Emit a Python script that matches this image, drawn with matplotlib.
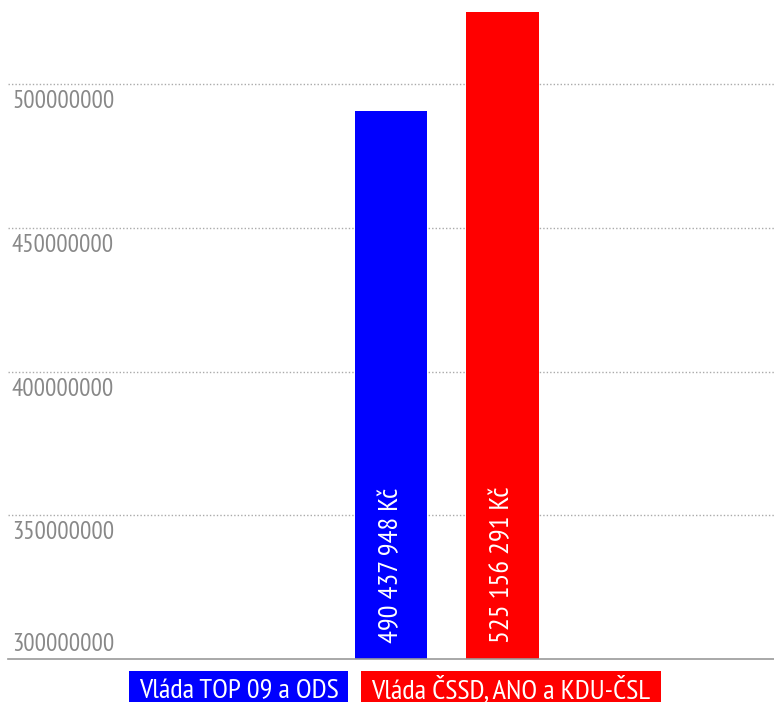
import matplotlib.pyplot as plt
import matplotlib.transforms as mtransforms
from matplotlib.patches import Rectangle

plt.rcParams["font.family"] = ["PT Sans Narrow", "DejaVu Sans"]

# data
parties = ["Vláda TOP 09 a ODS", "Vláda ČSSD, ANO a KDU-ČSL"]
values = [490437948, 525156291]
value_labels = ["490 437 948 Kč", "525 156 291 Kč"]
colors = ["#0000ff", "#ff0000"]
yticks = [300000000, 350000000, 400000000, 450000000, 500000000]

W, H = 774, 702
fig = plt.figure(figsize=(W / 100, H / 100), dpi=100)
ax = fig.add_axes([8 / W, (H - 659) / H, (W - 8) / W, 659 / H])

ymin = yticks[0]
ymax = ymin + (yticks[-1] - ymin) * 659 / 575
ax.set_ylim(ymin, ymax)
ax.set_xlim(-3.435, 3.435)

positions = [0, 1]
ax.bar(positions, values, width=0.646, color=colors, zorder=2)

for y in yticks[1:]:
    ax.axhline(y, color="#aaaaaa", lw=1, ls=(0, (1, 1.5)), zorder=1)

trans = mtransforms.blended_transform_factory(ax.transAxes, ax.transData)
off_down = mtransforms.offset_copy(trans, fig=fig, y=-6, units="dots")
off_up = mtransforms.offset_copy(trans, fig=fig, y=3, units="dots")
for y in yticks:
    if y == ymin:
        ax.text(4 / (W - 8), y, str(y), transform=off_up, va="bottom",
                ha="left", color="#888888", fontsize=18)
    else:
        ax.text(4 / (W - 8), y, str(y), transform=off_down, va="top",
                ha="left", color="#888888", fontsize=18)

# labels inside the bars
lab_trans = mtransforms.offset_copy(ax.transData, fig=fig, y=16, units="dots")
for p, lab in zip(positions, value_labels):
    ax.text(p, ymin, lab, transform=lab_trans, rotation=90, ha="center",
            va="bottom", color="white", fontsize=20.5)

for s in ["top", "left", "right"]:
    ax.spines[s].set_visible(False)
ax.spines["bottom"].set_color("#999999")
ax.spines["bottom"].set_linewidth(1.2)
ax.set_xticks([])
ax.set_yticks([])

# legend as coloured boxes (cut by the bottom edge, as in the original)
legend_x = [238.5 / W, 511 / W]
renderer = fig.canvas.get_renderer()
for x, lab, c in zip(legend_x, parties, colors):
    t = fig.text(x, 1 - 698 / H, lab, ha="center", va="baseline",
                 color="white", fontsize=20.5, zorder=3)
    bb = t.get_window_extent(renderer)
    fig.patches.append(Rectangle((bb.x0 - 10, -2), bb.width + 20, H - 671 + 2,
                                 transform=None, facecolor=c,
                                 edgecolor="none", zorder=2, figure=fig))

fig.savefig("out.png", dpi=100)
